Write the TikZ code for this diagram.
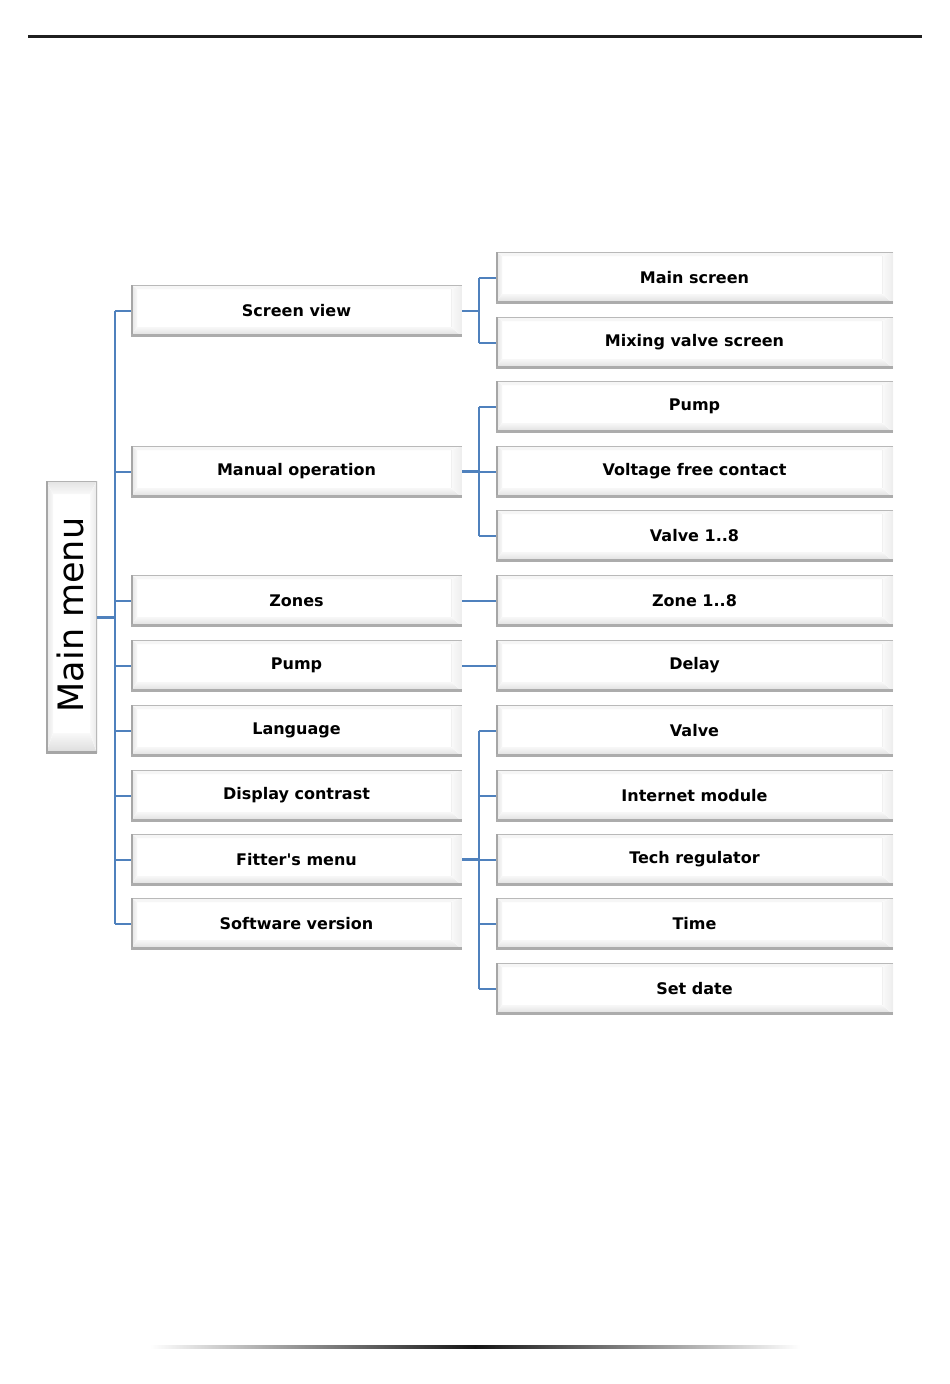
\documentclass[tikz,border=0pt]{standalone}
\usepackage{fontspec}
\setmainfont{DejaVu Sans}
\usetikzlibrary{calc}
\definecolor{conn}{RGB}{79,129,189}
\begin{document}
\begin{tikzpicture}[x=1pt,y=-1pt,
  conn/.style={draw=conn,line width=2pt},
  connthick/.style={draw=conn,line width=3pt},
  menubox/.style={minimum height=51pt,inner sep=0pt,fill=white,
    font=\fontsize{16}{18}\selectfont\bfseries,
    path picture={
      \coordinate (pa) at (path picture bounding box.north west);
      \coordinate (pb) at (path picture bounding box.north east);
      \coordinate (pc) at (path picture bounding box.south east);
      \coordinate (pd) at (path picture bounding box.south west);
      \fill[gray!7] (pa) -- (pb) -- ($(pb)+(-11,4)$) -- ($(pa)+(6,4)$) -- cycle;
      \fill[left color=gray!22,right color=gray!6] (pa) -- ($(pa)+(6,4)$) -- ($(pd)+(6,-9)$) -- (pd) -- cycle;
      \fill[top color=gray!6,bottom color=gray!26] (pd) -- ($(pd)+(6,-9)$) -- ($(pc)+(-11,-9)$) -- (pc) -- cycle;
      \fill[left color=gray!4,right color=gray!14] (pb) -- ($(pb)+(-11,4)$) -- ($(pc)+(-11,-9)$) -- (pc) -- cycle;
      \draw[gray!12,line width=0.8pt] ($(pb)+(-11,4)$) -- ($(pc)+(-11,-9)$);
      \draw[gray!55,line width=2pt] (pa) -- (pb);
      \draw[gray!70,line width=3pt] (pa) -- (pd);
      \draw[gray!65,line width=4pt] (pd) -- (pc);
    }},
  leftbox/.style={menubox,minimum width=331pt},
  rightbox/.style={menubox,minimum width=397pt}
]
\useasboundingbox (0,0) rectangle (950,1384);
% header and footer rules
\fill[black!88] (28,35) rectangle (922,38);
\fill[left color=white,right color=white,middle color=black!92] (150,1345.5) rectangle (800,1348.5);

% main menu box
\node[minimum width=51pt,minimum height=272pt,inner sep=0pt,fill=white,
  path picture={
    \coordinate (pa) at (path picture bounding box.north west);
    \coordinate (pb) at (path picture bounding box.north east);
    \coordinate (pc) at (path picture bounding box.south east);
    \coordinate (pd) at (path picture bounding box.south west);
    \fill[top color=gray!22,bottom color=gray!5] (pa) -- (pb) -- ($(pb)+(-7,13)$) -- ($(pa)+(7,13)$) -- cycle;
    \fill[top color=gray!5,bottom color=gray!28] (pd) -- ($(pd)+(7,-20)$) -- ($(pc)+(-7,-20)$) -- (pc) -- cycle;
    \fill[left color=gray!20,right color=gray!5] (pa) -- ($(pa)+(7,13)$) -- ($(pd)+(7,-20)$) -- (pd) -- cycle;
    \fill[left color=gray!5,right color=gray!18] (pb) -- ($(pb)+(-7,13)$) -- ($(pc)+(-7,-20)$) -- (pc) -- cycle;
    \draw[gray!60,line width=2pt] (pa) -- (pb);
    \draw[gray!70,line width=3pt] (pa) -- (pd);
    \draw[gray!55,line width=3pt] (pb) -- (pc);
    \draw[gray!70,line width=4pt] (pd) -- (pc);
  }] (mm) at (71.5,617) {};
\node[rotate=90,font=\fontsize{35}{38}\selectfont] (mmt) at (70,615) {Main menu};

% left column
\node[leftbox] (sv) at (296.5,310.5) {Screen view};
\node[leftbox] (mo) at (296.5,471.5) {Manual operation};
\node[leftbox] (zo) at (296.5,600.5) {Zones};
\node[leftbox] (pu) at (296.5,665.5) {Pump};
\node[leftbox] (la) at (296.5,730.5) {Language};
\node[leftbox] (dc) at (296.5,795.5) {Display contrast};
\node[leftbox] (fm) at (296.5,859.5) {Fitter\textquotesingle s menu};
\node[leftbox] (sw) at (296.5,923.5) {Software version};

% right column
\node[rightbox] (ms) at (694.5,277.5) {Main screen};
\node[rightbox] (mv) at (694.5,342.5) {Mixing valve screen};
\node[rightbox] (rp) at (694.5,406.5) {Pump};
\node[rightbox] (vf) at (694.5,471.5) {Voltage free contact};
\node[rightbox] (v18) at (694.5,535.5) {Valve 1..8};
\node[rightbox] (z18) at (694.5,600.5) {Zone 1..8};
\node[rightbox] (de) at (694.5,665.5) {Delay};
\node[rightbox] (va) at (694.5,730.5) {Valve};
\node[rightbox] (im) at (694.5,795.5) {Internet module};
\node[rightbox] (tr) at (694.5,859.5) {Tech regulator};
\node[rightbox] (ti) at (694.5,923.5) {Time};
\node[rightbox] (sd) at (694.5,988.5) {Set date};

% main spine
\coordinate (sp) at (115,617);
\draw[connthick] (mm.east) -- (sp);
\draw[conn] (sp |- sv.west) -- (sp |- sw.west);
\foreach \b in {sv,mo,zo,pu,la,dc,fm,sw}{
  \draw[conn] (sp |- \b.west) -- (\b.west);
}

% right spines
\coordinate (rs) at (479,0);
\draw[conn] (sv.east) -- (sv.east -| rs);
\draw[conn] (rs |- ms.west) -- (rs |- mv.west);
\foreach \b in {ms,mv}{ \draw[conn] (rs |- \b.west) -- (\b.west); }

\draw[connthick] (mo.east) -- (mo.east -| rs);
\draw[conn] (rs |- rp.west) -- (rs |- v18.west);
\foreach \b in {rp,vf,v18}{ \draw[conn] (rs |- \b.west) -- (\b.west); }

\draw[conn] (zo.east) -- (z18.west);
\draw[conn] (pu.east) -- (de.west);

\draw[connthick] (fm.east) -- (fm.east -| rs);
\draw[conn] (rs |- va.west) -- (rs |- sd.west);
\foreach \b in {va,im,tr,ti,sd}{ \draw[conn] (rs |- \b.west) -- (\b.west); }
\end{tikzpicture}
\end{document}
